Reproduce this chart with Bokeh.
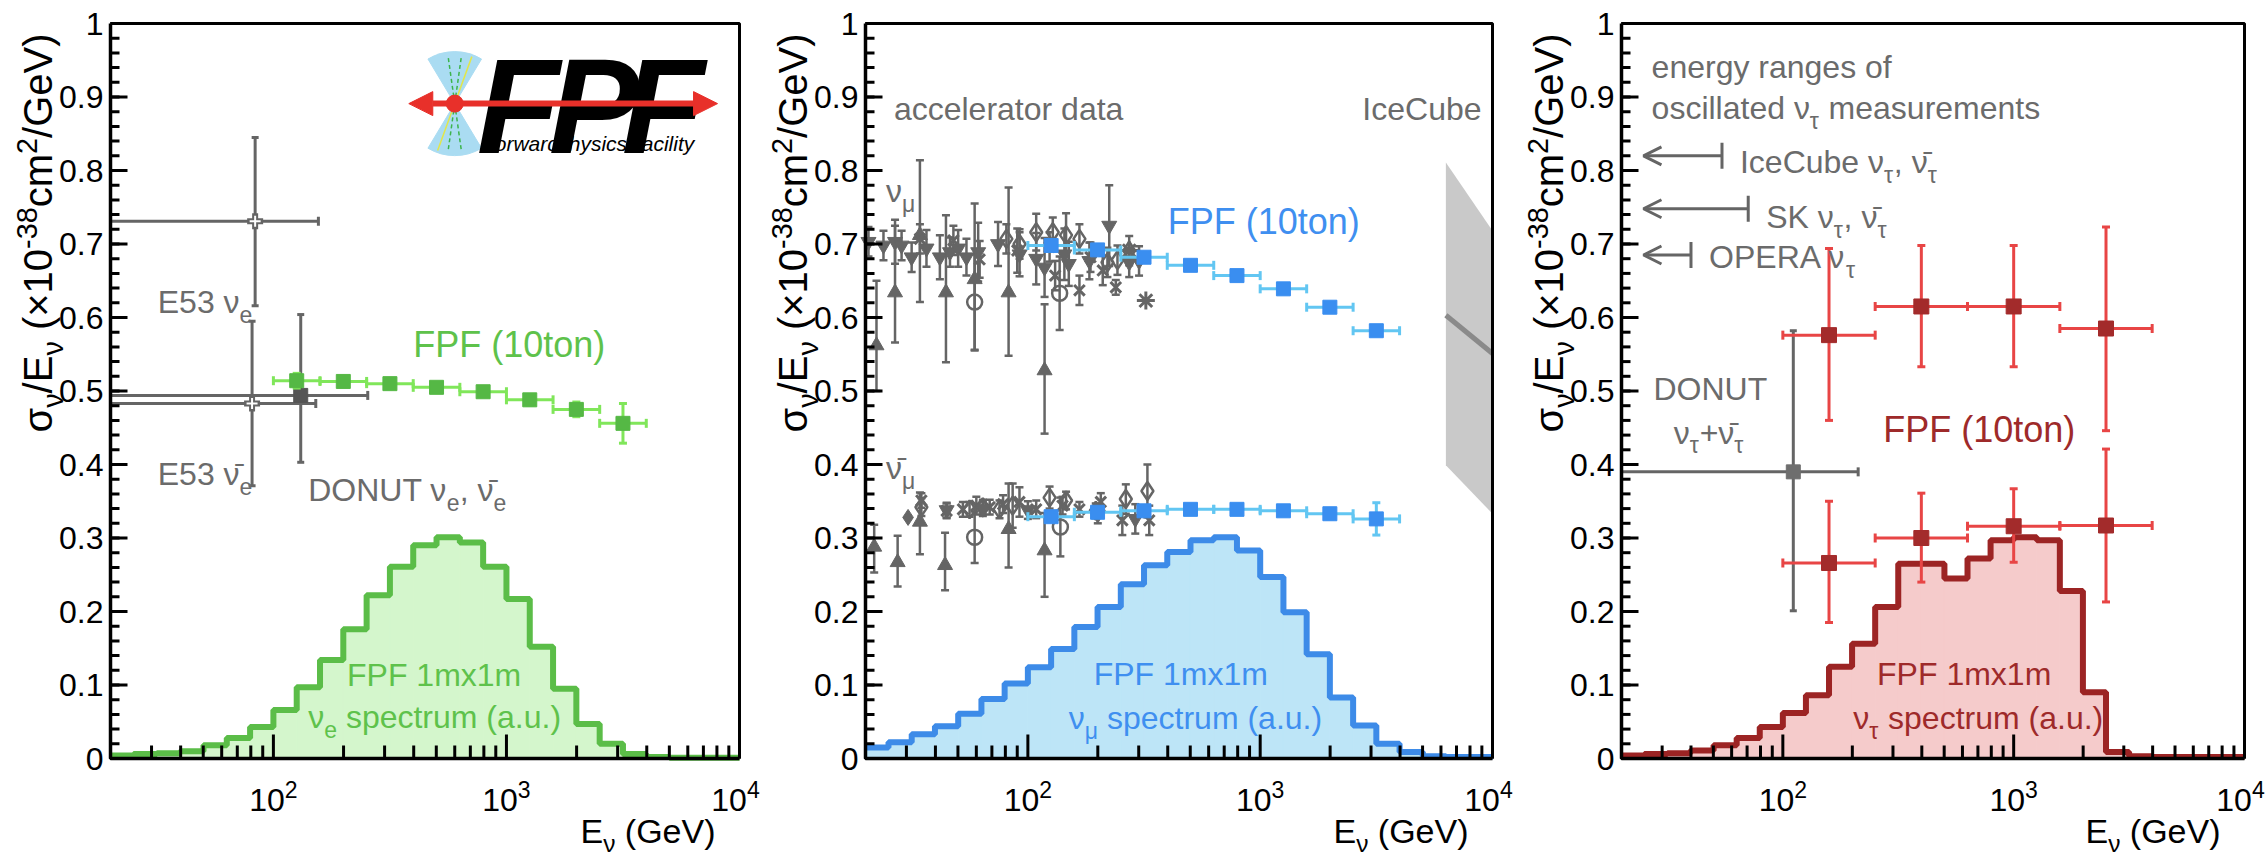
import math
from bokeh.plotting import figure
from bokeh.layouts import row
from bokeh.models import Range1d, Label, Arrow, NormalHead, OpenHead
from bokeh.embed import file_html
from bokeh.resources import INLINE

FONT = "Liberation Sans"

# ---------------- axes ----------------
X_MAJOR = [100, 1000, 10000]
X_MINOR = [20, 30, 40, 50, 60, 70, 80, 90, 200, 300, 400, 500, 600, 700, 800, 900,
           2000, 3000, 4000, 5000, 6000, 7000, 8000, 9000]
X_TICK_LABELS = [("10", "2"), ("10", "3"), ("10", "4")]
Y_MAJOR = [0.0, 0.1, 0.2, 0.3, 0.4, 0.5, 0.6, 0.7, 0.8, 0.9, 1.0]
Y_TICK_LABELS = ["0", "0.1", "0.2", "0.3", "0.4", "0.5", "0.6", "0.7", "0.8", "0.9", "1"]
Y_MINOR = [round(0.02 * i, 2) for i in range(51)]
X_MIN, X_MAX, Y_MIN, Y_MAX = 20.0, 10000.0, 0.0, 1.0

# ---------------- spectra (a.u.) ----------------
BIN_EDGES = [19.95, 25.12, 31.62, 39.81, 50.12, 63.10, 79.43, 100.0, 125.9, 158.5, 199.5,
             251.2, 316.2, 398.1, 501.2, 631.0, 794.3, 1000.0, 1259.0, 1585.0, 1995.0,
             2512.0, 3162.0, 3981.0, 5012.0, 6310.0, 7943.0, 10000.0]
SPEC_NUE = [0.004, 0.006, 0.007, 0.010, 0.018, 0.028, 0.043,
            0.066, 0.097, 0.134, 0.176, 0.222, 0.261, 0.290, 0.301, 0.294, 0.261,
            0.217, 0.152, 0.095, 0.047, 0.020, 0.006, 0.002, 0.001, 0.001, 0.001]
SPEC_NUMU = [0.015, 0.022, 0.033, 0.044, 0.061, 0.081, 0.102,
             0.124, 0.149, 0.179, 0.206, 0.237, 0.263, 0.281, 0.297, 0.301, 0.283,
             0.247, 0.199, 0.142, 0.083, 0.045, 0.020, 0.009, 0.003, 0.002, 0.002]
SPEC_NUTAU = [0.004, 0.006, 0.007, 0.011, 0.018, 0.028, 0.043,
              0.062, 0.086, 0.125, 0.156, 0.206, 0.265, 0.265, 0.245, 0.272, 0.297,
              0.301, 0.297, 0.228, 0.090, 0.009, 0.003, 0.002, 0.002, 0.002, 0.002]

# ---------------- FPF (10ton) projections ----------------
FPF_E = [125.9, 199.5, 316.2, 501.2, 794.3, 1259.0, 1995.0, 3162.0]
FPF_ELO = [100.0, 158.5, 251.2, 398.1, 631.0, 1000.0, 1585.0, 2512.0]
FPF_EHI = [158.5, 251.2, 398.1, 631.0, 1000.0, 1585.0, 2512.0, 3981.0]
FPF_NUE = [0.514, 0.513, 0.510, 0.505, 0.499, 0.488, 0.475, 0.456]
FPF_NUE_ERR = [0.010, 0.006, 0.005, 0.005, 0.006, 0.007, 0.010, 0.027]
FPF_NUMU = [0.698, 0.692, 0.682, 0.671, 0.657, 0.639, 0.614, 0.582]
FPF_NUMU_ERR = [0.005, 0.005, 0.005, 0.005, 0.005, 0.005, 0.005, 0.006]
FPF_NUMUBAR = [0.329, 0.335, 0.337, 0.339, 0.339, 0.337, 0.333, 0.326]
FPF_NUMUBAR_ERR = [0.004, 0.004, 0.004, 0.004, 0.004, 0.005, 0.007, 0.022]

TAU_E = [158.5, 398.1, 1000.0, 2512.0]
TAU_ELO = [100.0, 251.2, 631.0, 1585.0]
TAU_EHI = [251.2, 631.0, 1585.0, 3981.0]
TAU_NU = [0.576, 0.615, 0.615, 0.585]
TAU_NU_LO = [0.460, 0.533, 0.533, 0.446]
TAU_NU_HI = [0.694, 0.698, 0.698, 0.723]
TAU_NUBAR = [0.266, 0.300, 0.316, 0.317]
TAU_NUBAR_LO = [0.185, 0.240, 0.267, 0.213]
TAU_NUBAR_HI = [0.350, 0.361, 0.367, 0.421]

# ---------------- existing measurements ----------------
E53_E = [83.5, 81.0]
E53_ELO = [20.0, 20.0]
E53_EHI = [156.0, 152.0]
E53_Y = [0.731, 0.483]
E53_YLO = [0.616, 0.371]
E53_YHI = [0.845, 0.595]

DONUT_E_E = [131.0]
DONUT_E_ELO = [20.0]
DONUT_E_EHI = [254.0]
DONUT_E_Y = [0.494]
DONUT_E_YLO = [0.403]
DONUT_E_YHI = [0.604]

DONUT_T_E = [111.0]
DONUT_T_ELO = [20.0]
DONUT_T_EHI = [212.0]
DONUT_T_Y = [0.390]
DONUT_T_YLO = [0.201]
DONUT_T_YHI = [0.582]

# accelerator nu_mu
NM_ITRI_E = [20.6, 23.9, 26.8, 28.6, 31.6, 36.6, 41.8, 46.2, 50.1, 54.4, 61.1, 74.4, 92.1,
             108.6, 118.0, 143.6, 150.0, 184.0, 224.0, 273.0, 301.0]
NM_ITRI_Y = [0.703, 0.698, 0.703, 0.698, 0.682, 0.694, 0.682, 0.689, 0.694, 0.682, 0.689,
             0.700, 0.686, 0.680, 0.668, 0.686, 0.673, 0.677, 0.725, 0.675, 0.677]
NM_ITRI_ERR = [0.020, 0.020, 0.030, 0.020, 0.020, 0.025, 0.030, 0.020, 0.025, 0.025, 0.040,
               0.030, 0.030, 0.035, 0.040, 0.035, 0.030, 0.025, 0.055, 0.020, 0.020]
NM_TRI_E = [22.3, 26.8, 34.3, 44.4, 59.0, 82.6, 118.0]
NM_TRI_Y = [0.562, 0.634, 0.712, 0.634, 0.652, 0.634, 0.528]
NM_TRI_LO = [0.500, 0.566, 0.621, 0.539, 0.555, 0.548, 0.442]
NM_TRI_HI = [0.650, 0.725, 0.814, 0.739, 0.755, 0.777, 0.618]
NM_CIRC_E = [59.0, 137.0]
NM_CIRC_Y = [0.621, 0.633]
NM_CIRC_ERR = [0.065, 0.050]
NM_DIAM_E = [80.8, 92.1, 108.6, 128.0, 146.0, 166.7, 220.0, 243.0, 273.0]
NM_DIAM_Y = [0.707, 0.700, 0.716, 0.716, 0.712, 0.707, 0.675, 0.678, 0.691]
NM_DIAM_ERR = [0.020, 0.020, 0.025, 0.020, 0.030, 0.020, 0.020, 0.020, 0.020]
NM_X_E = [34.3, 47.8, 62.0, 90.0, 124.0, 131.0, 166.7, 186.0, 210.0, 239.0]
NM_X_Y = [0.707, 0.705, 0.679, 0.691, 0.696, 0.657, 0.637, 0.682, 0.664, 0.641]
NM_X_ERR = [0.020, 0.020, 0.025, 0.030, 0.020, 0.020, 0.020, 0.020, 0.020, 0.010]
NM_AST_E = [273.0, 322.0]
NM_AST_Y = [0.691, 0.623]

# accelerator nu_mu-bar
NB_X_E = [34.8, 44.7, 52.5, 60.0, 68.5, 78.2, 92.0, 108.6, 141.0, 166.7, 206.0, 255.0, 333.0]
NB_X_Y = [0.351, 0.337, 0.339, 0.344, 0.342, 0.346, 0.349, 0.339, 0.344, 0.339, 0.349, 0.324, 0.324]
NB_X_ERR = [0.010, 0.010, 0.010, 0.012, 0.010, 0.012, 0.020, 0.012, 0.012, 0.010, 0.012, 0.020, 0.020]
NB_DIAM_E = [34.8, 56.1, 64.0, 75.5, 86.0, 124.0, 146.0, 196.0, 264.0, 327.0]
NB_DIAM_Y = [0.342, 0.339, 0.342, 0.339, 0.344, 0.355, 0.351, 0.337, 0.353, 0.364]
NB_DIAM_ERR = [0.012, 0.010, 0.010, 0.012, 0.030, 0.015, 0.012, 0.010, 0.020, 0.036]
NB_FDIAM_E = [30.5]
NB_FDIAM_Y = [0.328]
NB_ITRI_E = [44.7, 64.0, 100.0, 200.0, 290.0]
NB_ITRI_Y = [0.338, 0.340, 0.338, 0.332, 0.326]
NB_ITRI_ERR = [0.010, 0.010, 0.012, 0.012, 0.020]
NB_TRI_E = [21.8, 27.5, 34.3, 44.0, 82.6, 118.0]
NB_TRI_Y = [0.288, 0.267, 0.322, 0.263, 0.312, 0.283]
NB_TRI_LO = [0.253, 0.234, 0.278, 0.229, 0.260, 0.220]
NB_TRI_HI = [0.318, 0.303, 0.362, 0.307, 0.374, 0.334]
NB_CIRC_E = [59.0, 138.0]
NB_CIRC_Y = [0.301, 0.315]
NB_CIRC_ERR = [0.035, 0.040]

# IceCube band
ICECUBE_E = [6300.0, 10000.0]
ICECUBE_LO = [0.399, 0.333]
ICECUBE_HI = [0.811, 0.718]
ICECUBE_MID = [0.603, 0.551]

# oscillation energy ranges (upper end of range, arrow to lower energies)
OSC_EMAX = [54.5, 70.8, 40.0]
OSC_EMIN = [24.9, 24.9, 24.9]
OSC_Y = [0.820, 0.748, 0.685]

# ---------------- styling ----------------
GRAY = "#656565"
GRAY_TXT = "#6b6b6b"
GREEN_LINE, GREEN_FILL, GREEN_SQ, GREEN_ERR, GREEN_TXT = "#5bbd48", "#d4f6cc", "#55b845", "#80e65a", "#5ec24b"
BLUE_LINE, BLUE_FILL, BLUE_SQ, BLUE_ERR, BLUE_TXT = "#3d8be8", "#bde5f7", "#3a8ef0", "#62c6f2", "#3f8ff0"
RED_LINE, RED_FILL, RED_SQ, RED_ERR, RED_TXT = "#9c2424", "#f5cbcb", "#a32b2b", "#e84545", "#9e2a2a"
LOGO_RED = "#e8302a"

# layout (pixels): canvas height, frame top / bottom
H, F_TOP, F_BOT = 858, 23, 758
PPU = F_BOT - F_TOP
MID = 0.35  # baseline -> middle of the em box, in em

AW = {' ': 278, '(': 333, ')': 333, '+': 584, ',': 278, '-': 333, '.': 278, '/': 278,
      'A': 667, 'B': 667, 'C': 722, 'D': 722, 'E': 667, 'F': 611, 'G': 778, 'I': 278,
      'K': 667, 'N': 722, 'O': 778, 'P': 667, 'R': 722, 'S': 667, 'T': 611, 'U': 722,
      'V': 667, 'a': 556, 'b': 556, 'c': 500, 'd': 556, 'e': 556, 'f': 278, 'g': 556,
      'h': 556, 'i': 222, 'k': 500, 'l': 222, 'm': 833, 'n': 556, 'o': 556, 'p': 556,
      'r': 333, 's': 500, 't': 278, 'u': 556, 'v': 500, 'w': 722, 'x': 500, 'y': 500,
      'ν': 500, 'μ': 576, 'τ': 427, 'σ': 617, '×': 584, '\u0304': 0}


def tw(s, fs):
    return sum(AW.get(c, 556) for c in s) * fs / 1000.0


def rich(p, x, y, segs, fs, color, angle=0.0, align="left", dx=0.0, dy=0.0,
         style="normal", small=0.72, sub=0.30, sup=0.42):
    """Text with sub/superscripts; (x, y) + (dx, dy) is the baseline start point."""
    items, total = [], 0.0
    for t, k in segs:
        s = fs if k == "n" else fs * small
        v = 0.0 if k == "n" else (-sub * fs if k == "sub" else sup * fs)
        lead = len(t) - len(t.lstrip(" "))
        items.append((t.strip(), s, total + tw(" " * lead, s), v + MID * s))
        total += tw(t, s)
    start = {"left": 0.0, "right": -total, "center": -total / 2.0}[align]
    for t, s, d, v in items:
        a = start + d
        if angle:
            xo, yo = dx - v, dy + a
        else:
            xo, yo = dx + a, dy + v
        p.add_layout(Label(x=x, y=y, x_offset=xo, y_offset=yo, text=t, angle=angle,
                           text_font=FONT, text_font_size=f"{s:.1f}px", text_color=color,
                           text_font_style=style, text_align="left",
                           text_baseline="middle"))


def make_fig(width, frame_left, frame_right):
    """Frame covers the whole canvas; the ROOT-style axes box is drawn inside it."""
    lg0, lg1 = math.log10(X_MIN), math.log10(X_MAX)
    ppd = (frame_right - frame_left) / (lg1 - lg0)
    xr = Range1d(10 ** (lg0 - frame_left / ppd), 10 ** (lg0 + (width - frame_left) / ppd))
    yr = Range1d(Y_MIN - (H - F_BOT) / PPU, Y_MAX + F_TOP / PPU)
    p = figure(width=width, height=H, x_axis_type="log", x_range=xr, y_range=yr,
               x_axis_location=None, y_axis_location=None, output_backend="svg",
               toolbar_location=None, min_border=0)
    p.grid.visible = False
    p.outline_line_color = None
    p.background_fill_color = "white"
    p.border_fill_color = "white"
    return p, ppd


def draw_axes(p, ppd):
    xin = lambda px: X_MIN * 10 ** (px / ppd)
    yin = lambda px: Y_MIN + px / PPU
    p.segment(x0=X_MINOR, y0=[Y_MIN] * len(X_MINOR), x1=X_MINOR, y1=[yin(13)] * len(X_MINOR),
              line_color="black", line_width=3)
    p.segment(x0=X_MAJOR, y0=[Y_MIN] * len(X_MAJOR), x1=X_MAJOR, y1=[yin(24)] * len(X_MAJOR),
              line_color="black", line_width=3)
    p.segment(x0=[X_MIN] * len(Y_MINOR), y0=Y_MINOR, x1=[xin(9)] * len(Y_MINOR), y1=Y_MINOR,
              line_color="black", line_width=3)
    p.segment(x0=[X_MIN] * len(Y_MAJOR), y0=Y_MAJOR, x1=[xin(17)] * len(Y_MAJOR), y1=Y_MAJOR,
              line_color="black", line_width=3)
    p.line([X_MIN, X_MAX, X_MAX], [Y_MAX, Y_MAX, Y_MIN], line_color="black", line_width=3)
    p.line([X_MIN, X_MIN, X_MAX], [Y_MAX, Y_MIN, Y_MIN], line_color="black", line_width=3.5)
    for v, t in zip(Y_MAJOR, Y_TICK_LABELS):
        rich(p, X_MIN, v, [(t, "n")], 32, "black", align="right", dx=-7, dy=-0.358 * 32)
    for v, (b, e) in zip(X_MAJOR, X_TICK_LABELS):
        rich(p, v, Y_MIN, [(b, "n"), (e, "sup")], 32, "black", align="center",
             dx=(-4 if v == X_MAX else 0), dy=-53)
    rich(p, X_MIN, Y_MAX, [("σ", "n"), ("ν", "sub"), ("/E", "n"), ("ν", "sub"), (" (×10", "n"),
                           ("-38", "sup"), ("cm", "n"), ("2", "sup"), ("/GeV)", "n")],
         40, "black", angle=math.pi / 2, align="right", dx=-59, dy=-10, sup=0.36)
    rich(p, X_MAX, Y_MIN, [("E", "n"), ("ν", "sub"), (" (GeV)", "n")], 34, "black",
         align="right", dx=-24, dy=-84, sub=0.27)


def hist(p, edges, vals, line, fill):
    p.quad(left=edges[:-1], right=edges[1:], bottom=0, top=vals, fill_color=fill,
           line_color=fill, line_width=1)
    xs, ys = [], []
    for i, v in enumerate(vals):
        xs += [edges[i], edges[i + 1]]
        ys += [v, v]
    p.line(xs, ys, line_color=line, line_width=6)


def vbars(p, x, lo, hi, color, lw=3, cap=9):
    p.segment(x0=x, y0=lo, x1=x, y1=hi, line_color=color, line_width=lw)
    if cap:
        p.scatter(x=list(x) + list(x), y=list(lo) + list(hi), marker="dash", size=cap,
                  line_color=color, line_width=lw)


def hbars(p, y, lo, hi, color, lw=3, cap=9):
    p.segment(x0=lo, y0=y, x1=hi, y1=y, line_color=color, line_width=lw)
    cx = [v for v in list(lo) + list(hi) if v > X_MIN]
    cy = [yy for v, yy in zip(list(lo) + list(hi), list(y) + list(y)) if v > X_MIN]
    if cap and cx:
        p.scatter(x=cx, y=cy, marker="dash", angle=math.pi / 2, size=cap,
                  line_color=color, line_width=lw)


def sym(vals, errs, sign):
    return [v + sign * e for v, e in zip(vals, errs)]


def fpf_points(p, y, err, sq, ec):
    hbars(p, y, FPF_ELO, FPF_EHI, ec, lw=3, cap=9)
    vbars(p, FPF_E, sym(y, err, -1), sym(y, err, 1), ec, lw=3, cap=8)
    p.scatter(FPF_E, y, marker="square", size=14, fill_color=sq, line_color=sq)


TS = 32   # annotation text
TB = 36   # "FPF (10ton)"

# =========================== panel 1 : nu_e ===========================
p1, ppd1 = make_fig(765, 110, 739)
hist(p1, BIN_EDGES, SPEC_NUE, GREEN_LINE, GREEN_FILL)

hbars(p1, E53_Y, E53_ELO, E53_EHI, GRAY, lw=3, cap=9)
vbars(p1, E53_E, E53_YLO, E53_YHI, GRAY, lw=3, cap=7)
p1.scatter(E53_E, E53_Y, marker="cross", size=16, line_color=GRAY, line_width=6)
p1.scatter(E53_E, E53_Y, marker="cross", size=11, line_color="white", line_width=2)
hbars(p1, DONUT_E_Y, DONUT_E_ELO, DONUT_E_EHI, GRAY, lw=3, cap=9)
vbars(p1, DONUT_E_E, DONUT_E_YLO, DONUT_E_YHI, GRAY, lw=3, cap=7)
p1.scatter(DONUT_E_E, DONUT_E_Y, marker="square", size=14, fill_color="#555555",
           line_color="#555555")
fpf_points(p1, FPF_NUE, FPF_NUE_ERR, GREEN_SQ, GREEN_ERR)

rich(p1, 31.9, 0.606, [("E53 ν", "n"), ("e", "sub")], TS, GRAY_TXT)
rich(p1, 31.9, 0.372, [("E53 ν\u0304", "n"), ("e", "sub")], TS, GRAY_TXT)
rich(p1, 141, 0.350, [("DONUT ν", "n"), ("e", "sub"), (", ν\u0304", "n"), ("e", "sub")], TS, GRAY_TXT)
rich(p1, 398, 0.546, [("FPF (10ton)", "n")], TB, GREEN_TXT)
rich(p1, 207, 0.099, [("FPF 1mx1m", "n")], TS, GREEN_TXT)
rich(p1, 141, 0.041, [("ν", "n"), ("e", "sub"), (" spectrum (a.u.)", "n")], TS, GREEN_TXT)

# FPF logo
LOGO_E, LOGO_Y = 600.0, 0.891
p1.wedge(x=[LOGO_E, LOGO_E], y=[LOGO_Y, LOGO_Y], radius=52, radius_units="screen",
         start_angle=[math.radians(59), math.radians(239)],
         end_angle=[math.radians(121), math.radians(301)],
         fill_color="#aadcf2", line_color="#aadcf2")
p1.ray(x=[LOGO_E] * 4, y=[LOGO_Y] * 4, length=48, length_units="screen",
       angle=[math.radians(a) for a in (82, 98, 262, 278)], line_color="#3cb44b",
       line_dash="4 3", line_width=1.5)
p1.ray(x=[LOGO_E] * 2, y=[LOGO_Y] * 2, length=50, length_units="screen",
       angle=[math.radians(70), math.radians(250)], line_color="#e2e64a", line_width=1.5)
for t, off in (("F", 22), ("P", 94), ("F", 167)):
    rich(p1, LOGO_E, LOGO_Y, [(t, "n")], 136, "black", dx=off, dy=-50, style="bold italic")
for t, off in (("orward", 40), ("hysics", 114), ("acility", 187)):
    rich(p1, LOGO_E, LOGO_Y, [(t, "n")], 21, "black", dx=off, dy=-47, style="italic")
p1.add_layout(Arrow(start=NormalHead(size=24, fill_color=LOGO_RED, line_color=LOGO_RED),
                    end=NormalHead(size=24, fill_color=LOGO_RED, line_color=LOGO_RED),
                    x_start=381, y_start=LOGO_Y, x_end=8050, y_end=LOGO_Y,
                    line_color=LOGO_RED, line_width=6))
p1.scatter([LOGO_E], [LOGO_Y], size=17, fill_color=LOGO_RED, line_color=LOGO_RED)
draw_axes(p1, ppd1)

# =========================== panel 2 : nu_mu ===========================
p2, ppd2 = make_fig(757, 100, 727)
hist(p2, BIN_EDGES, SPEC_NUMU, BLUE_LINE, BLUE_FILL)
p2.varea(x=ICECUBE_E, y1=ICECUBE_LO, y2=ICECUBE_HI, fill_color="#c9c9c9")
p2.line(ICECUBE_E, ICECUBE_MID, line_color="#8a8a8a", line_width=5)

MS = 15
vbars(p2, NM_ITRI_E, sym(NM_ITRI_Y, NM_ITRI_ERR, -1), sym(NM_ITRI_Y, NM_ITRI_ERR, 1), GRAY, 2.5, 8)
vbars(p2, NM_TRI_E, NM_TRI_LO, NM_TRI_HI, GRAY, 2.5, 8)
vbars(p2, NM_CIRC_E, sym(NM_CIRC_Y, NM_CIRC_ERR, -1), sym(NM_CIRC_Y, NM_CIRC_ERR, 1), GRAY, 2.5, 8)
vbars(p2, NM_DIAM_E, sym(NM_DIAM_Y, NM_DIAM_ERR, -1), sym(NM_DIAM_Y, NM_DIAM_ERR, 1), GRAY, 2.5, 8)
vbars(p2, NM_X_E, sym(NM_X_Y, NM_X_ERR, -1), sym(NM_X_Y, NM_X_ERR, 1), GRAY, 2.5, 8)
p2.scatter(NM_ITRI_E, NM_ITRI_Y, marker="inverted_triangle", size=MS, fill_color=GRAY, line_color=GRAY)
p2.scatter(NM_TRI_E, NM_TRI_Y, marker="triangle", size=MS, fill_color=GRAY, line_color=GRAY)
p2.scatter(NM_CIRC_E, NM_CIRC_Y, marker="circle", size=MS, fill_color=None, line_color=GRAY, line_width=2.5)
p2.scatter(NM_DIAM_E, NM_DIAM_Y, marker="diamond", size=MS + 3, fill_color=None, line_color=GRAY, line_width=2.5)
p2.scatter(NM_X_E, NM_X_Y, marker="x", size=MS, line_color=GRAY, line_width=3)
p2.scatter(NM_AST_E, NM_AST_Y, marker="asterisk", size=MS + 3, line_color=GRAY, line_width=3)
vbars(p2, NB_X_E, sym(NB_X_Y, NB_X_ERR, -1), sym(NB_X_Y, NB_X_ERR, 1), GRAY, 2.5, 8)
vbars(p2, NB_DIAM_E, sym(NB_DIAM_Y, NB_DIAM_ERR, -1), sym(NB_DIAM_Y, NB_DIAM_ERR, 1), GRAY, 2.5, 8)
vbars(p2, NB_ITRI_E, sym(NB_ITRI_Y, NB_ITRI_ERR, -1), sym(NB_ITRI_Y, NB_ITRI_ERR, 1), GRAY, 2.5, 8)
vbars(p2, NB_TRI_E, NB_TRI_LO, NB_TRI_HI, GRAY, 2.5, 8)
vbars(p2, NB_CIRC_E, sym(NB_CIRC_Y, NB_CIRC_ERR, -1), sym(NB_CIRC_Y, NB_CIRC_ERR, 1), GRAY, 2.5, 8)
p2.scatter(NB_X_E, NB_X_Y, marker="x", size=MS, line_color=GRAY, line_width=3)
p2.scatter(NB_DIAM_E, NB_DIAM_Y, marker="diamond", size=MS + 3, fill_color=None, line_color=GRAY, line_width=2.5)
p2.scatter(NB_FDIAM_E, NB_FDIAM_Y, marker="diamond", size=MS + 1, fill_color=GRAY, line_color=GRAY)
p2.scatter(NB_ITRI_E, NB_ITRI_Y, marker="inverted_triangle", size=MS, fill_color=GRAY, line_color=GRAY)
p2.scatter(NB_TRI_E, NB_TRI_Y, marker="triangle", size=MS, fill_color=GRAY, line_color=GRAY)
p2.scatter(NB_CIRC_E, NB_CIRC_Y, marker="circle", size=MS, fill_color=None, line_color=GRAY, line_width=2.5)

fpf_points(p2, FPF_NUMU, FPF_NUMU_ERR, BLUE_SQ, BLUE_ERR)
fpf_points(p2, FPF_NUMUBAR, FPF_NUMUBAR_ERR, BLUE_SQ, BLUE_ERR)

rich(p2, 26.5, 0.868, [("accelerator data", "n")], TS, GRAY_TXT)
rich(p2, 8970, 0.868, [("IceCube", "n")], TS, GRAY_TXT, align="right")
rich(p2, 24.5, 0.757, [("ν", "n"), ("μ", "sub")], TS, GRAY_TXT)
rich(p2, 24.5, 0.380, [("ν\u0304", "n"), ("μ", "sub")], TS, GRAY_TXT)
rich(p2, 400, 0.714, [("FPF (10ton)", "n")], TB, BLUE_TXT)
rich(p2, 192, 0.100, [("FPF 1mx1m", "n")], TS, BLUE_TXT)
rich(p2, 150, 0.040, [("ν", "n"), ("μ", "sub"), (" spectrum (a.u.)", "n")], TS, BLUE_TXT)
draw_axes(p2, ppd2)

# =========================== panel 3 : nu_tau ===========================
p3, ppd3 = make_fig(745, 99, 722)
hist(p3, BIN_EDGES, SPEC_NUTAU, RED_LINE, RED_FILL)

hbars(p3, DONUT_T_Y, DONUT_T_ELO, DONUT_T_EHI, GRAY, lw=3, cap=9)
vbars(p3, DONUT_T_E, DONUT_T_YLO, DONUT_T_YHI, GRAY, lw=3, cap=7)
p3.scatter(DONUT_T_E, DONUT_T_Y, marker="square", size=14, fill_color="#6e6e6e", line_color="#6e6e6e")

for yv, lo, hi in ((TAU_NU, TAU_NU_LO, TAU_NU_HI), (TAU_NUBAR, TAU_NUBAR_LO, TAU_NUBAR_HI)):
    hbars(p3, yv, TAU_ELO, TAU_EHI, RED_ERR, lw=3, cap=9)
    vbars(p3, TAU_E, lo, hi, RED_ERR, lw=3, cap=8)
    p3.scatter(TAU_E, yv, marker="square", size=15, fill_color=RED_SQ, line_color=RED_SQ)

for emax, emin, yv in zip(OSC_EMAX, OSC_EMIN, OSC_Y):
    p3.add_layout(Arrow(end=OpenHead(size=18, line_color=GRAY, line_width=3),
                        x_start=emax, y_start=yv, x_end=emin, y_end=yv,
                        line_color=GRAY, line_width=3))
p3.scatter(OSC_EMAX, OSC_Y, marker="dash", angle=math.pi / 2, size=26, line_color=GRAY, line_width=3)

rich(p3, 27.0, 0.925, [("energy ranges of", "n")], TS, GRAY_TXT)
rich(p3, 27.0, 0.870, [("oscillated ν", "n"), ("τ", "sub"), (" measurements", "n")], TS, GRAY_TXT)
rich(p3, 65.2, 0.796, [("IceCube ν", "n"), ("τ", "sub"), (", ν\u0304", "n"), ("τ", "sub")], TS, GRAY_TXT)
rich(p3, 84.7, 0.721, [("SK ν", "n"), ("τ", "sub"), (", ν\u0304", "n"), ("τ", "sub")], TS, GRAY_TXT)
rich(p3, 47.9, 0.667, [("OPERA ν", "n"), ("τ", "sub")], TS, GRAY_TXT)
rich(p3, 27.5, 0.487, [("DONUT", "n")], TS, GRAY_TXT)
rich(p3, 33.7, 0.428, [("ν", "n"), ("τ", "sub"), ("+ν\u0304", "n"), ("τ", "sub")], TS, GRAY_TXT)
rich(p3, 272, 0.430, [("FPF (10ton)", "n")], TB, RED_TXT)
rich(p3, 256, 0.100, [("FPF 1mx1m", "n")], TS, RED_TXT)
rich(p3, 202, 0.040, [("ν", "n"), ("τ", "sub"), (" spectrum (a.u.)", "n")], TS, RED_TXT)
draw_axes(p3, ppd3)

layout = row(p1, p2, p3)
open("out.html", "w").write(file_html(layout, INLINE, "FPF neutrino cross sections"))
